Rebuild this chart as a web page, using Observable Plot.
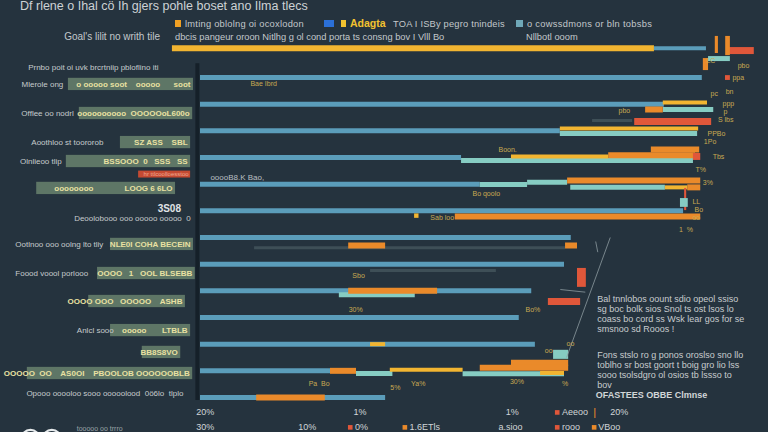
<!DOCTYPE html>
<html>
<head>
<meta charset="utf-8">
<script src="https://cdn.jsdelivr.net/npm/d3@7"></script>
<script src="https://cdn.jsdelivr.net/npm/@observablehq/plot@0.6"></script>
<style>
  html, body { margin:0; padding:0; background:#25333e; width:768px; height:432px; overflow:hidden; }
  #wrap { position:relative; width:768px; height:432px; font-family:"Liberation Sans", Arial, sans-serif; color:#c8cdd0; }
  #chart { position:absolute; left:0; top:0; }
  .hd { position:absolute; white-space:nowrap; font-size:9.3px; line-height:10px; color:#c3c8cb; }
  .sq { position:absolute; height:7px; }
</style>
</head>
<body>
<div id="wrap">
  <div id="chart"></div>
  <div class="hd" style="left:20px;top:0px;font-size:12.5px;line-height:13px;color:#cdd2d5">Df rlene o Ihal cö Ih gjers pohle boset ano Ilma tlecs</div>
  <div class="hd" style="left:40px;top:32px;font-size:10px;width:120px;text-align:right">Goal's lilit no writh tile</div>
  <div class="sq" style="left:175px;top:20px;width:6px;background:#f0a024"></div>
  <div class="hd" style="left:185px;top:19px;letter-spacing:0.25px">lmting oblolng oi ocoxlodon</div>
  <div class="sq" style="left:324px;top:20px;width:10px;background:#2b70d8"></div>
  <div class="sq" style="left:341px;top:20px;width:5px;background:#f2c230"></div>
  <div class="hd" style="left:350px;top:18px;font-size:10.5px;color:#f2c230;font-weight:bold">Adagta</div>
  <div class="hd" style="left:393px;top:19px;letter-spacing:0.2px">TOA I ISBy pegro tnindeis</div>
  <div class="sq" style="left:516px;top:20px;width:7px;background:#6fa8b8"></div>
  <div class="hd" style="left:527px;top:19px;letter-spacing:0.3px">o cowssdmons or bln tobsbs</div>
  <div class="hd" style="left:175px;top:32px">dbcis pangeur oroon Nitlhg g ol cond porta ts consng bov I Vlll Bo</div>
  <div class="hd" style="left:526px;top:32px">Nllbotl ooom</div>
</div>
<script>
// ---------- data ----------
const rowIds = [1,2,3,4,5,6,7,8,9,10,11,12,13];
const blueEnds = [96.5, 89.2, 69.2, 50.2, 53.8, 92.9, 71.3, 70.0, 63.7, 61.3, 64.4, 25.0, 35.6];

const topYellow = [{row:-0.1, from:-5.4, to:87.3}];
const topBlue = [{row:-0.1, from:87.3, to:97.3}];

const yellowBars = [
  {row:1.94, from:89.0, to:97.5},
  {row:2.91, from:69.2, to:95.8},
  {row:3.96, from:59.8, to:78.5},
  {row:5.12, from:89.4, to:93.7},
  {row:11.0, from:32.7, to:35.6},
  {row:11.96, from:36.5, to:50.5},
  {row:12.08, from:65.4, to:70.0}
];
const tealBars = [
  {row:0.29, from:97.7, to:101.9},
  {row:2.2, from:89.0, to:98.7},
  {row:3.1, from:69.2, to:95.6},
  {row:4.11, from:50.2, to:94.8},
  {row:5.01, from:53.8, to:62.9},
  {row:4.93, from:62.9, to:70.6},
  {row:5.12, from:71.2, to:89.4},
  {row:9.15, from:26.7, to:41.3},
  {row:12.1, from:30.0, to:37.0},
  {row:12.11, from:50.5, to:70.0}
];
const orangeBars = [
  {row:2.2, from:85.6, to:89.0},
  {row:3.7, from:86.7, to:96.0},
  {row:3.92, from:78.5, to:95.2},
  {row:4.86, from:70.6, to:96.2},
  {row:5.12, from:93.7, to:96.2},
  {row:6.21, from:49.0, to:96.2},
  {row:7.3, from:28.5, to:35.6},
  {row:7.3, from:70.2, to:72.5},
  {row:9.0, from:28.5, to:45.6},
  {row:12.0, from:25.0, to:30.0},
  {row:11.7, from:59.8, to:70.8},
  {row:11.88, from:53.8, to:70.8},
  {row:13.0, from:10.8, to:24.0}
];
const redBars = [
  {row:-0.01, from:101.5, to:106.5},
  {row:2.65, from:83.5, to:98.3},
  {row:3.96, from:94.8, to:96.2},
  {row:9.4, from:66.9, to:73.1}
];
const grayBars = [
  {row:2.61, from:75.4, to:83.1},
  {row:7.38, from:10.4, to:70.2},
  {row:8.24, from:32.7, to:56.9}
];
const orangeBlocks = [
  {x1:99.0, x2:99.6, r1:-0.54, r2:0.1},
  {x1:101.0, x2:101.9, r1:-0.54, r2:0.18},
  {x1:96.7, x2:97.7, r1:0.29, r2:0.74}
];
const redBlocks = [
  {x1:100.96, x2:101.9, r1:0.93, r2:1.11},
  {x1:93.1, x2:93.5, r1:5.16, r2:5.99},
  {x1:72.5, x2:74.2, r1:8.16, r2:8.87}
];
const tealBlocks = [
  {x1:92.3, x2:93.8, r1:5.54, r2:5.87},
  {x1:67.9, x2:70.8, r1:11.23, r2:11.57}
];

// left category labels
const leftLabels = [
  {row:0.62, at:-7.7, label:"Prnbo poit oi uvk brcrtniip pbloflino iti"},
  {row:1.26, at:-26.0, label:"Mlerole ong"},
  {row:2.35, at:-24.0, label:"Offlee oo nodrl"},
  {row:3.44, at:-18.3, label:"Aoothloo st toororob"},
  {row:4.15, at:-26.3, label:"Olnlieoo tlip"},
  {row:6.29, at:-1.5, label:"Deoolobooo ooo ooooo ooooo  0"},
  {row:7.26, at:-18.3, label:"Ootlnoo ooo oolng lto tliy"},
  {row:8.35, at:-21.2, label:"Foood voool porlooo"},
  {row:10.49, at:-16.3, label:"Anlcl sooo"},
  {row:12.85, at:-2.9, label:"Opooo ooooloo sooo ooooolood  0ö6lo  tlplo"}
];
const labelBoxes = [
  {row:1.26, from:-25.4, to:-1.35, text:"o ooooo soot    ooooo      soot"},
  {row:2.35, from:-23.3, to:-1.5, text:"oooooooooo  OOOOOoL600o"},
  {row:3.44, from:-15.4, to:-1.9, text:"SZ ASS    SBL"},
  {row:4.15, from:-25.8, to:-1.9, text:"BSSOOO  0   SSS   SS"},
  {row:5.16, from:-31.5, to:-4.8, text:"oooooooo              LOOG 6 6LO"},
  {row:7.26, from:-17.3, to:-1.35, text:"NLE0I COHA BECEIN"},
  {row:8.35, from:-19.8, to:-1.0, text:"OOOO   1   OOL BLSEBB"},
  {row:9.4, from:-21.5, to:-2.9, text:"OOOO OOO   OOOOO    ASHB"},
  {row:10.49, from:-17.3, to:-1.9, text:"ooooo       LTBLB"},
  {row:11.31, from:-11.2, to:-3.8, text:"BB8S8VO"},
  {row:12.1, from:-33.3, to:-1.5, text:"OOOOO  OO    AS0OI    PBOOLOB OOOOOOBLB"}
];
const redBox = [{row:4.64, from:-11.9, to:-1.9, text:"hr ttlcoolloesstoo"}];
const bigNumber = [{row:5.91, at:-6.0, text:"3S08"}];

// gold value labels on bars
const barNotes = [
  {x:9.6, row:1.22, text:"Bae Ibrd"},
  {x:80.4, row:2.26, text:"pbo"},
  {x:57.3, row:3.71, text:"Boon."},
  {x:52.3, row:5.35, text:"Bo qoolo"},
  {x:44.2, row:6.25, text:"Sab loo"},
  {x:29.2, row:8.42, text:"Sbo"},
  {x:28.5, row:9.7, text:"30%"},
  {x:62.5, row:9.7, text:"Bo%"},
  {x:66.2, row:11.23, text:"oo"},
  {x:70.4, row:10.98, text:"oo"},
  {x:20.8, row:12.47, text:"Pa  Bo"},
  {x:36.5, row:12.62, text:"5%"},
  {x:40.5, row:12.47, text:"Ya%"},
  {x:59.5, row:12.4, text:"30%"},
  {x:69.5, row:12.47, text:"%"},
  {x:97.3, row:0.36, text:"LC"},
  {x:103.3, row:0.55, text:"pbo"},
  {x:102.3, row:1.0, text:"ppa"},
  {x:98.1, row:1.6, text:"pc"},
  {x:101.0, row:1.55, text:"bn"},
  {x:100.4, row:2.0, text:"ppp"},
  {x:100.6, row:2.3, text:"p"},
  {x:99.5, row:2.58, text:"S lbs"},
  {x:97.5, row:3.1, text:"PPBo"},
  {x:96.8, row:3.4, text:"1Po"},
  {x:98.5, row:3.96, text:"Tbs"},
  {x:95.2, row:4.45, text:"T%"},
  {x:96.6, row:4.95, text:"3%"},
  {x:94.6, row:5.65, text:"LL"},
  {x:95.0, row:5.96, text:"Bo"},
  {x:94.6, row:6.26, text:"oo"},
  {x:92.0, row:6.7, text:"1  %"}
];
const whiteNote = [{x:1.9, row:4.75, text:"ooooB8.K Bao,"}];

// bottom tick labels / legend
const tickRow1 = [
  {x:-0.8, row:13.56, text:"20%"},
  {x:29.4, row:13.56, text:"1%"},
  {x:58.7, row:13.56, text:"1%"},
  {x:69.5, row:13.56, text:"Aeeoo"},
  {x:78.8, row:13.56, text:"20%"}
];
const tickRow2 = [
  {x:-0.8, row:14.12, text:"30%"},
  {x:18.8, row:14.12, text:"10%"},
  {x:29.7, row:14.12, text:"0%"},
  {x:40.2, row:14.12, text:"1.6ETls"},
  {x:57.3, row:14.12, text:"a.sioo"},
  {x:69.5, row:14.12, text:"rooo"},
  {x:76.5, row:14.12, text:"VBoo"}
];
const redKeys = [{x:68.6, row:13.56}, {x:28.8, row:14.12}, {x:68.6, row:14.12}];
const orangeKeys = [{x:39.3, row:14.12}, {x:75.7, row:14.12}];
const pipes = [{x:75.8, row:13.56, text:"|"}];

// notes on the right
const noteBlocks = [
  {x:76.3, row:9.17, text:"Bal tnnlobos oount sdio opeol ssiso\nsg boc bolk sios Snol ts ost lsos lo\ncoass bo cord ss Wsk lear gos for se\nsmsnoo sd Rooos !"},
  {x:76.3, row:11.27, text:"Fons stslo ro g ponos oroslso sno llo\ntoblho sr bost goort t boig gro lio lss\nsooo tsolsdgro ol osios tb lssso to\nbov"}
];
const noteFooter = [{x:76.0, row:12.92, text:"OFASTEES OBBE Clmnse"}];
const leaderLines = [
  {x1:78.8, r1:7.0, x2:70.4, r2:11.5},
  {x1:76.0, r1:7.15, x2:76.4, r2:7.55},
  {x1:74.0, r1:9.05, x2:69.2, r2:8.95}
];
const footerMarks = [{x:-32.7, row:14.55}, {x:-28.6, row:14.55}];
const footerText = [{x:-23.8, row:14.16, text:"tooooo oo trrro"}];

// ---------- build ----------
const blueRows = rowIds.map((r, i) => ({row:r, from:0, to:blueEnds[i]}));
const C = {blue:"#5b9dba", orange:"#ea8a2a", yellow:"#f2b531", red:"#e0573a", teal:"#86ccc2", gray:"#3e4f57", gold:"#c9aa52", text:"#c6cbcd"};
const bar = (data, color, w, extra={}) => Plot.ruleY(data, {y:"row", x1:"from", x2:"to", stroke:color, strokeWidth:w, ...extra});
const block = (data, color) => Plot.rect(data, {x1:"x1", x2:"x2", y1:"r1", y2:"r2", fill:color});

const chart = Plot.plot({
  width:768, height:432,
  marginTop:0, marginRight:0, marginBottom:0, marginLeft:0,
  x:{domain:[0,100], range:[200,720], axis:null},
  y:{domain:[1,13], range:[77,397], axis:null},
  style:{background:"transparent", fontFamily:"'Liberation Sans', Arial, sans-serif", overflow:"visible"},
  marks:[
    Plot.rect(labelBoxes, {x1:"from", x2:"to", y1:d=>d.row-0.23, y2:d=>d.row+0.23, fill:"#5e7666"}),
    Plot.rect(redBox, {x1:"from", x2:"to", y1:d=>d.row-0.13, y2:d=>d.row+0.13, fill:"#c44a32"}),
    Plot.text(labelBoxes, {x:"to", y:"row", text:"text", textAnchor:"end", dx:-3, fill:"#e9e1a2", fontWeight:"bold", fontSize:8}),
    Plot.text(redBox, {x:"to", y:"row", text:"text", textAnchor:"end", dx:-2, fill:"#f0a890", fontSize:6}),
    Plot.text(leftLabels, {x:"at", y:"row", text:"label", textAnchor:"end", dx:-2, fill:C.text, fontSize:8}),
    Plot.text(bigNumber, {x:"at", y:"row", text:"text", fill:"#e0e4e6", fontSize:10, fontWeight:"bold"}),
    Plot.ruleX([-0.6], {y1:0.48, y2:13.11, stroke:"#152029", strokeWidth:4}),
    bar(grayBars, C.gray, 3),
    bar(blueRows, C.blue, 5),
    bar(topYellow, C.yellow, 6),
    bar(topBlue, C.blue, 4),
    bar(tealBars, C.teal, 5),
    bar(orangeBars, C.orange, 6),
    bar(yellowBars, C.yellow, 4),
    bar(redBars, C.red, 7),
    block(orangeBlocks, C.orange),
    block(redBlocks, C.red),
    block(tealBlocks, C.teal),
    Plot.dot([{x:41.5, row:6.18}], {x:"x", y:"row", symbol:"square", r:2.5, fill:C.yellow}),
    Plot.link(leaderLines, {x1:"x1", y1:"r1", x2:"x2", y2:"r2", stroke:"#8d9ba0", strokeWidth:0.8}),
    Plot.text(barNotes, {x:"x", y:"row", text:"text", textAnchor:"start", fill:C.gold, fontSize:7}),
    Plot.text(whiteNote, {x:"x", y:"row", text:"text", textAnchor:"start", fill:"#b9bfc2", fontSize:8}),
    Plot.text(noteBlocks, {x:"x", y:"row", text:"text", textAnchor:"start", lineAnchor:"top", lineHeight:1.11, fill:"#c8ccce", fontSize:9}),
    Plot.text(noteFooter, {x:"x", y:"row", text:"text", textAnchor:"start", fill:"#d2d6d8", fontSize:9, fontWeight:"bold"}),
    Plot.text(tickRow1, {x:"x", y:"row", text:"text", textAnchor:"start", fill:"#d2d6d8", fontSize:9}),
    Plot.text(tickRow2, {x:"x", y:"row", text:"text", textAnchor:"start", fill:"#d2d6d8", fontSize:9}),
    Plot.text(pipes, {x:"x", y:"row", text:"text", fill:C.orange, fontSize:11}),
    Plot.dot(redKeys, {x:"x", y:"row", symbol:"square", r:2.6, fill:C.red}),
    Plot.dot(orangeKeys, {x:"x", y:"row", symbol:"square", r:2.6, fill:C.orange}),
    Plot.dot(footerMarks, {x:"x", y:"row", r:9, stroke:"#e6eaec", strokeWidth:2.2, fill:"none"}),
    Plot.text(footerText, {x:"x", y:"row", text:"text", textAnchor:"start", fill:"#9aa3a8", fontSize:7})
  ]
});
document.getElementById("chart").appendChild(chart);
</script>
</body>
</html>
